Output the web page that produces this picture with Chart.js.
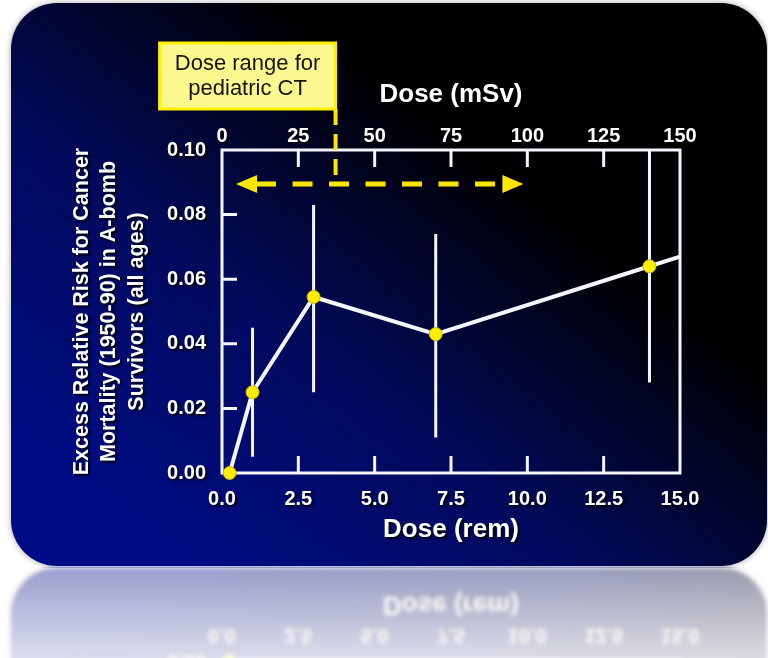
<!DOCTYPE html>
<html>
<head>
<meta charset="utf-8">
<script src="https://cdn.jsdelivr.net/npm/chart.js@4.4.1/dist/chart.umd.min.js"></script>
<style>
  html, body { margin: 0; padding: 0; background: #fff; overflow: hidden; }
  canvas { display: block; }
</style>
</head>
<body>
<canvas id="riskChart" width="768" height="658"></canvas>
<script>
// dose in rem, excess relative risk (ERR) and its error bar ends
const doseRem = [0.25, 1, 3, 7, 14, 15]
const excessRisk = [0, 0.025, 0.0545, 0.043, 0.064, 0.067]
const errLow = [null, 0.005, 0.025, 0.011, 0.028, null]
const errHigh = [null, 0.045, 0.083, 0.074, 0.1, null]

const remTickLabels = ['0.0', '2.5', '5.0', '7.5', '10.0', '12.5', '15.0']
const mSvTickLabels = ['0', '25', '50', '75', '100', '125', '150']
const riskTickLabels = ['0.00', '0.02', '0.04', '0.06', '0.08', '0.10']

// pediatric CT range (mSv) shown by the dashed arrow
const ctRangeFrom = 4.6
const ctRangeTo = 98.7
const ctRangeRisk = 0.0895
const calloutAt = 37.2
const calloutLines = ['Dose range for', 'pediatric CT']

const FONT = '"Liberation Sans", Arial, Helvetica, sans-serif'
Chart.defaults.font.family = FONT

const roundRect = (ctx, x, y, w, h, r) => {
    ctx.beginPath()
    ctx.moveTo(x + r, y)
    ctx.arcTo(x + w, y, x + w, y + h, r)
    ctx.arcTo(x + w, y + h, x, y + h, r)
    ctx.arcTo(x, y + h, x, y, r)
    ctx.arcTo(x, y, x + w, y, r)
    ctx.closePath()
}

const slide = {
    id: 'slide',
    beforeDraw(chart) {
        const ctx = chart.ctx
        ctx.save()
        ctx.fillStyle = '#fff'
        ctx.fillRect(0, 0, 768, 658)
        ctx.shadowColor = 'rgba(0,0,0,0.35)'
        ctx.shadowBlur = 6
        const g = ctx.createLinearGradient(620, 0, 180, 570)
        g.addColorStop(0, '#000000')
        g.addColorStop(0.3, '#000003')
        g.addColorStop(0.65, '#020a5c')
        g.addColorStop(1, '#000c86')
        ctx.fillStyle = g
        roundRect(ctx, 11, 3, 756, 563, 46)
        ctx.fill()
        ctx.restore()
        // drop shadow for the axis texts
        ctx.shadowColor = 'rgba(0,0,0,0.85)'
        ctx.shadowOffsetX = 2
        ctx.shadowOffsetY = 2
        ctx.shadowBlur = 2
    },
    beforeDatasetsDraw(chart) {
        const ctx = chart.ctx
        ctx.shadowColor = 'rgba(0,0,0,0)'
        ctx.shadowOffsetX = 0
        ctx.shadowOffsetY = 0
        ctx.shadowBlur = 0
        const {x, x2, y} = chart.scales
        const a = chart.chartArea
        ctx.save()
        ctx.strokeStyle = '#f4f5ff'
        ctx.lineWidth = 3
        ctx.strokeRect(a.left, a.top, a.right - a.left, a.bottom - a.top)
        // inward ticks
        ctx.beginPath()
        x.ticks.slice(1, -1).forEach(t => {
            const px = x.getPixelForValue(t.value)
            ctx.moveTo(px, a.bottom); ctx.lineTo(px, a.bottom - 17)
        })
        x2.ticks.slice(1, -1).forEach(t => {
            const px = x2.getPixelForValue(t.value)
            ctx.moveTo(px, a.top); ctx.lineTo(px, a.top + 17)
        })
        y.ticks.slice(1, -1).forEach(t => {
            const py = y.getPixelForValue(t.value)
            ctx.moveTo(a.left, py); ctx.lineTo(a.left + 15, py)
        })
        ctx.stroke()
        // error bars
        ctx.beginPath()
        doseRem.forEach((d, i) => {
            if (errLow[i] == null) return
            const px = x.getPixelForValue(d)
            ctx.moveTo(px, y.getPixelForValue(errLow[i]))
            ctx.lineTo(px, y.getPixelForValue(errHigh[i]))
        })
        ctx.stroke()
        ctx.restore()
    },
    afterDatasetsDraw(chart) {
        const ctx = chart.ctx
        const mSv = chart.scales.x2
        const y = chart.scales.y
        const ay = y.getPixelForValue(ctRangeRisk)
        const x1 = mSv.getPixelForValue(ctRangeFrom)
        const x2 = mSv.getPixelForValue(ctRangeTo)
        const head = 21
        ctx.save()
        ctx.strokeStyle = '#ffe600'
        ctx.fillStyle = '#ffe600'
        ctx.lineWidth = 5
        ctx.setLineDash([20, 16.5])
        ctx.beginPath()
        ctx.moveTo(x1 + head - 1, ay)
        ctx.lineTo(x2 - head, ay)
        ctx.stroke()
        ctx.setLineDash([])
        ctx.beginPath()
        ctx.moveTo(x1, ay); ctx.lineTo(x1 + head, ay - 9); ctx.lineTo(x1 + head, ay + 9); ctx.closePath()
        ctx.moveTo(x2, ay); ctx.lineTo(x2 - head, ay - 9); ctx.lineTo(x2 - head, ay + 9); ctx.closePath()
        ctx.fill()

        const lx = mSv.getPixelForValue(calloutAt)
        const boxTop = 43, boxBottom = 109, boxW = 176
        ctx.lineWidth = 4
        ctx.setLineDash([16, 9])
        ctx.beginPath()
        ctx.moveTo(lx, boxBottom)
        ctx.lineTo(lx, ay - 3)
        ctx.stroke()
        ctx.setLineDash([])
        ctx.fillStyle = '#fbf890'
        ctx.fillRect(lx - boxW, boxTop, boxW, boxBottom - boxTop)
        ctx.lineWidth = 3
        ctx.strokeStyle = '#fff000'
        ctx.strokeRect(lx - boxW, boxTop, boxW, boxBottom - boxTop)
        ctx.fillStyle = '#14140c'
        ctx.font = '22px ' + FONT
        ctx.textAlign = 'center'
        ctx.textBaseline = 'middle'
        calloutLines.forEach((t, i) => {
            ctx.fillText(t, lx - boxW / 2, 64 + i * 25)
        })
        ctx.restore()
    },
    afterDraw(chart) {
        // mirrored, washed-out copy of the slide bottom
        const ctx = chart.ctx
        const cv = chart.canvas
        const r = chart.currentDevicePixelRatio || 1
        const srcTop = 468, srcBottom = 566, h = srcBottom - srcTop, destTop = 568
        const tmp = document.createElement('canvas')
        tmp.width = cv.width
        tmp.height = Math.round(h * r)
        tmp.getContext('2d').drawImage(cv, 0, srcTop * r, cv.width, h * r, 0, 0, cv.width, h * r)
        ctx.save()
        ctx.fillStyle = '#fff'
        ctx.fillRect(0, 566, 768, 92)
        ctx.translate(0, destTop + h)
        ctx.scale(1, -1)
        ctx.filter = 'blur(2px)'
        ctx.drawImage(tmp, 0, 0, tmp.width, tmp.height, 0, 0, 768, h)
        ctx.restore()
        ctx.save()
        const g = ctx.createLinearGradient(0, destTop, 0, 658)
        g.addColorStop(0, 'rgba(255,255,255,0.6)')
        g.addColorStop(1, 'rgba(255,255,255,0.86)')
        ctx.fillStyle = g
        ctx.fillRect(0, destTop, 768, 658 - destTop)
        ctx.restore()
    }
}

const textFont = (size) => ({ family: FONT, size: size, weight: 'bold' })

const config = {
    type: 'line',
    data: {
        datasets: [{
            label: 'ERR',
            data: doseRem.map((d, i) => ({ x: d, y: excessRisk[i] })),
            borderColor: '#f6f6ff',
            borderWidth: 4,
            pointBackgroundColor: '#ffee00',
            pointBorderColor: '#c9b800',
            pointBorderWidth: 1,
            pointRadius: (c) => c.dataIndex === doseRem.length - 1 ? 0 : 6.5,
            tension: 0,
            clip: false,
            xAxisID: 'x',
            yAxisID: 'y'
        }]
    },
    options: {
        responsive: false,
        animation: false,
        layout: { padding: { left: 60, right: 88, top: 70, bottom: 113 } },
        plugins: {
            legend: { display: false },
            tooltip: { enabled: false }
        },
        scales: {
            x: {
                type: 'linear',
                position: 'bottom',
                min: 0,
                max: 15,
                afterFit: (s) => { s.height = 72 },
                grid: { display: false },
                border: { display: false },
                ticks: {
                    stepSize: 2.5,
                    autoSkip: false,
                    maxRotation: 0,
                    color: '#fff',
                    padding: 6,
                    font: textFont(20),
                    callback: (v, i) => remTickLabels[i]
                },
                title: {
                    display: true,
                    text: 'Dose (rem)',
                    color: '#fff',
                    font: textFont(26),
                    padding: { top: 0, bottom: 0 }
                }
            },
            x2: {
                type: 'linear',
                position: 'top',
                min: 0,
                max: 150,
                afterFit: (s) => { s.height = 80 },
                grid: { display: false },
                border: { display: false },
                ticks: {
                    stepSize: 25,
                    autoSkip: false,
                    maxRotation: 0,
                    color: '#fff',
                    padding: -6,
                    font: textFont(20),
                    callback: (v, i) => mSvTickLabels[i]
                },
                title: {
                    display: true,
                    text: 'Dose (mSv)',
                    color: '#fff',
                    font: textFont(26),
                    padding: { top: 9, bottom: 0 }
                }
            },
            y: {
                min: 0,
                max: 0.1,
                afterFit: (s) => { s.width = 162 },
                grid: { display: false },
                border: { display: false },
                ticks: {
                    stepSize: 0.02,
                    color: '#fff',
                    padding: 8,
                    font: textFont(20),
                    callback: (v, i) => riskTickLabels[i]
                },
                title: {
                    display: true,
                    text: ['Excess Relative Risk for Cancer', 'Mortality (1950-90) in A-bomb', 'Survivors (all ages)'],
                    color: '#fff',
                    font: { family: FONT, size: 21.5, weight: 'bold', lineHeight: 1.28 },
                    padding: { top: 8, bottom: 0 }
                }
            }
        }
    },
    plugins: [slide]
}

const riskChart = new Chart(document.getElementById('riskChart'), config)
</script>
</body>
</html>
